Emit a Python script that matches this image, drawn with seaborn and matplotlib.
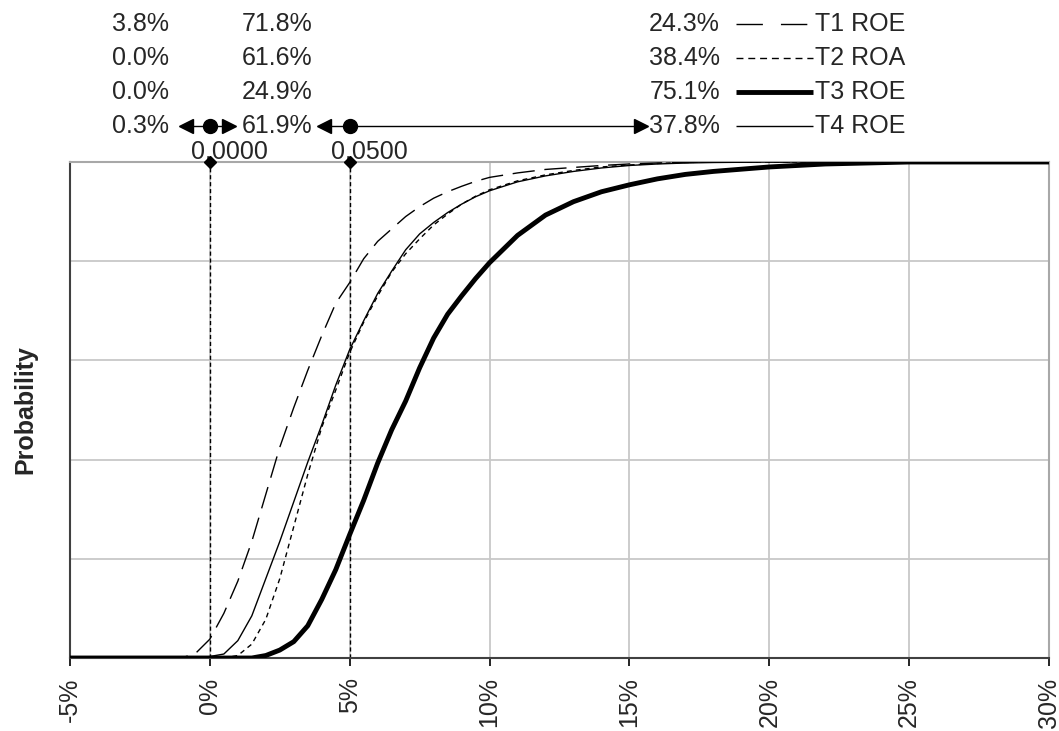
import numpy as np
import pandas as pd
import matplotlib
matplotlib.use("Agg")
import matplotlib.pyplot as plt
import matplotlib.transforms as mtransforms
import seaborn as sns

# ---------------- data ----------------
x_pct = [-5, -1, -0.5, 0, 0.5, 1, 1.5, 2, 2.5, 3, 3.5, 4, 4.5, 5, 5.5, 6, 6.5, 7,
         7.5, 8, 8.5, 9, 9.5, 10, 11, 12, 13, 14, 15, 16, 17, 18, 20, 22, 25, 30]

t1_roe = [0, 0, 0.01, 0.038, 0.09, 0.155, 0.235, 0.33, 0.425, 0.505, 0.58, 0.65,
          0.715, 0.757, 0.805, 0.84, 0.865, 0.89, 0.91, 0.927, 0.94, 0.951, 0.961,
          0.969, 0.978, 0.985, 0.989, 0.993, 0.996, 0.998, 0.999, 1.0, 1.0, 1.0,
          1.0, 1.0]
t2_roa = [0, 0, 0, 0, 0, 0.005, 0.028, 0.078, 0.16, 0.265, 0.37, 0.465, 0.54,
          0.616, 0.677, 0.73, 0.778, 0.815, 0.845, 0.873, 0.895, 0.915, 0.931,
          0.944, 0.962, 0.974, 0.983, 0.99, 0.994, 0.997, 0.999, 1.0, 1.0, 1.0,
          1.0, 1.0]
t3_roe = [0, 0, 0, 0, 0, 0, 0, 0.005, 0.016, 0.033, 0.065, 0.118, 0.178, 0.249,
          0.318, 0.393, 0.46, 0.518, 0.585, 0.645, 0.693, 0.73, 0.765, 0.797,
          0.852, 0.893, 0.92, 0.94, 0.954, 0.966, 0.975, 0.981, 0.99, 0.996,
          1.0, 1.0]
t4_roe = [0, 0, 0, 0.003, 0.008, 0.035, 0.085, 0.16, 0.235, 0.315, 0.395, 0.47,
          0.55, 0.622, 0.68, 0.735, 0.78, 0.823, 0.855, 0.878, 0.898, 0.915,
          0.93, 0.942, 0.96, 0.972, 0.981, 0.988, 0.993, 0.996, 0.998, 0.999,
          1.0, 1.0, 1.0, 1.0]

series_names = ["T1 ROE", "T2 ROA", "T3 ROE", "T4 ROE"]
left_pct = ["3.8%", "0.0%", "0.0%", "0.3%"]
mid_pct = ["71.8%", "61.6%", "24.9%", "61.9%"]
right_pct = ["24.3%", "38.4%", "75.1%", "37.8%"]
bounds = [0.0, 5.0]
bound_labels = ["0.0000", "0.0500"]
x_ticks = [-5, 0, 5, 10, 15, 20, 25, 30]
x_tick_labels = ["-5%", "0%", "5%", "10%", "15%", "20%", "25%", "30%"]
y_label = "Probability"

# ---------------- styling ----------------
sns.set_theme(style="white")
plt.rcParams["font.family"] = ["Liberation Sans", "DejaVu Sans"]
FS = 18

W, H = 1059, 731
fig = plt.figure(figsize=(W / 100, H / 100), dpi=100)
ax = fig.add_axes([70 / W, 1 - 658 / H, (1049 - 70) / W, (658 - 162) / H])

styles = [
    dict(linestyle=(0, (16, 7)), linewidth=1.0),
    dict(linestyle=(0, (3.5, 3)), linewidth=1.0),
    dict(linestyle="-", linewidth=3.5),
    dict(linestyle="-", linewidth=1.0),
]
legend_styles = [
    dict(linestyle=(0, (19, 13)), linewidth=1.0),
    dict(linestyle=(0, (5, 3.5)), linewidth=1.0),
    dict(linestyle="-", linewidth=3.5),
    dict(linestyle="-", linewidth=1.0),
]
series = [t1_roe, t2_roa, t3_roe, t4_roe]

df = pd.DataFrame({"x": x_pct})
for name, vals in zip(series_names, series):
    df[name] = vals

# reference lines (drawn under curves)
for b in bounds:
    ax.axvline(b, color="black", linestyle=(0, (3, 2)), linewidth=1.0, zorder=2)

for name, st in zip(series_names, styles):
    sns.lineplot(data=df, x="x", y=name, ax=ax, color="black", zorder=3,
                 solid_capstyle="butt", **st)

ax.set_xlim(-5, 30)
ax.set_ylim(0, 1)
ax.set_xticks(x_ticks)
ax.set_xticklabels(x_tick_labels, rotation=90, fontsize=FS)
ax.set_yticks([0.2, 0.4, 0.6, 0.8, 1.0])
ax.set_yticklabels([])
ax.tick_params(axis="y", length=0)
ax.tick_params(axis="x", direction="out", length=6, width=1.2, color="black",
               pad=8, bottom=True)
ax.grid(True, color="#c8c8c8", linewidth=1.3)
ax.set_axisbelow(True)
ax.set_xlabel("")
ax.set_ylabel(y_label, fontsize=FS, fontweight="bold", labelpad=20)
for side in ["left", "bottom"]:
    ax.spines[side].set_color("#404040")
    ax.spines[side].set_linewidth(1.5)
for side in ["top", "right"]:
    ax.spines[side].set_color("#a8a8a8")
    ax.spines[side].set_linewidth(1.5)

# diamonds + bound labels on top of reference lines
for b, lab in zip(bounds, bound_labels):
    ax.plot([b], [1.0], marker="D", markersize=6, color="black", clip_on=False, zorder=5)
    ax.annotate(lab, xy=(b, 1.0), xycoords="data", xytext=(-19, 3),
                textcoords="offset pixels", ha="left", va="baseline", fontsize=FS)

# ---------------- overlay (pixel coords) for the statistics block ----------------
ov = fig.add_axes([0, 0, 1, 1], facecolor="none")
ov.set_xlim(0, W)
ov.set_ylim(H, 0)
ov.axis("off")

rows_y = [24, 58, 92, 126]
for i, y in enumerate(rows_y):
    ov.text(169, y, left_pct[i], ha="right", va="center", fontsize=FS)
    ov.text(242, y, mid_pct[i], ha="left", va="center", fontsize=FS)
    ov.text(720, y, right_pct[i], ha="right", va="center", fontsize=FS)
    ov.plot([736, 813], [y, y], color="black", solid_capstyle="butt", **legend_styles[i])
    ov.text(815, y, series_names[i], ha="left", va="center", fontsize=FS)

# arrows row
ya = rows_y[3]
blend = mtransforms.blended_transform_factory(ax.transData, ov.transData)
ov.plot([186, 226], [ya, ya], color="black", linewidth=1.0)
ov.plot([186], [ya], marker="<", markersize=10, color="black", linestyle="none")
ov.plot([229], [ya], marker=">", markersize=10, color="black", linestyle="none")
ov.plot([324, 640], [ya, ya], color="black", linewidth=1.0)
ov.plot([324], [ya], marker="<", markersize=10, color="black", linestyle="none")
ov.plot([641], [ya], marker=">", markersize=10, color="black", linestyle="none")
for b in bounds:
    ov.plot([b], [ya], marker="o", markersize=10, color="black",
            linestyle="none", transform=blend)

fig.savefig("out.png", dpi=100)
